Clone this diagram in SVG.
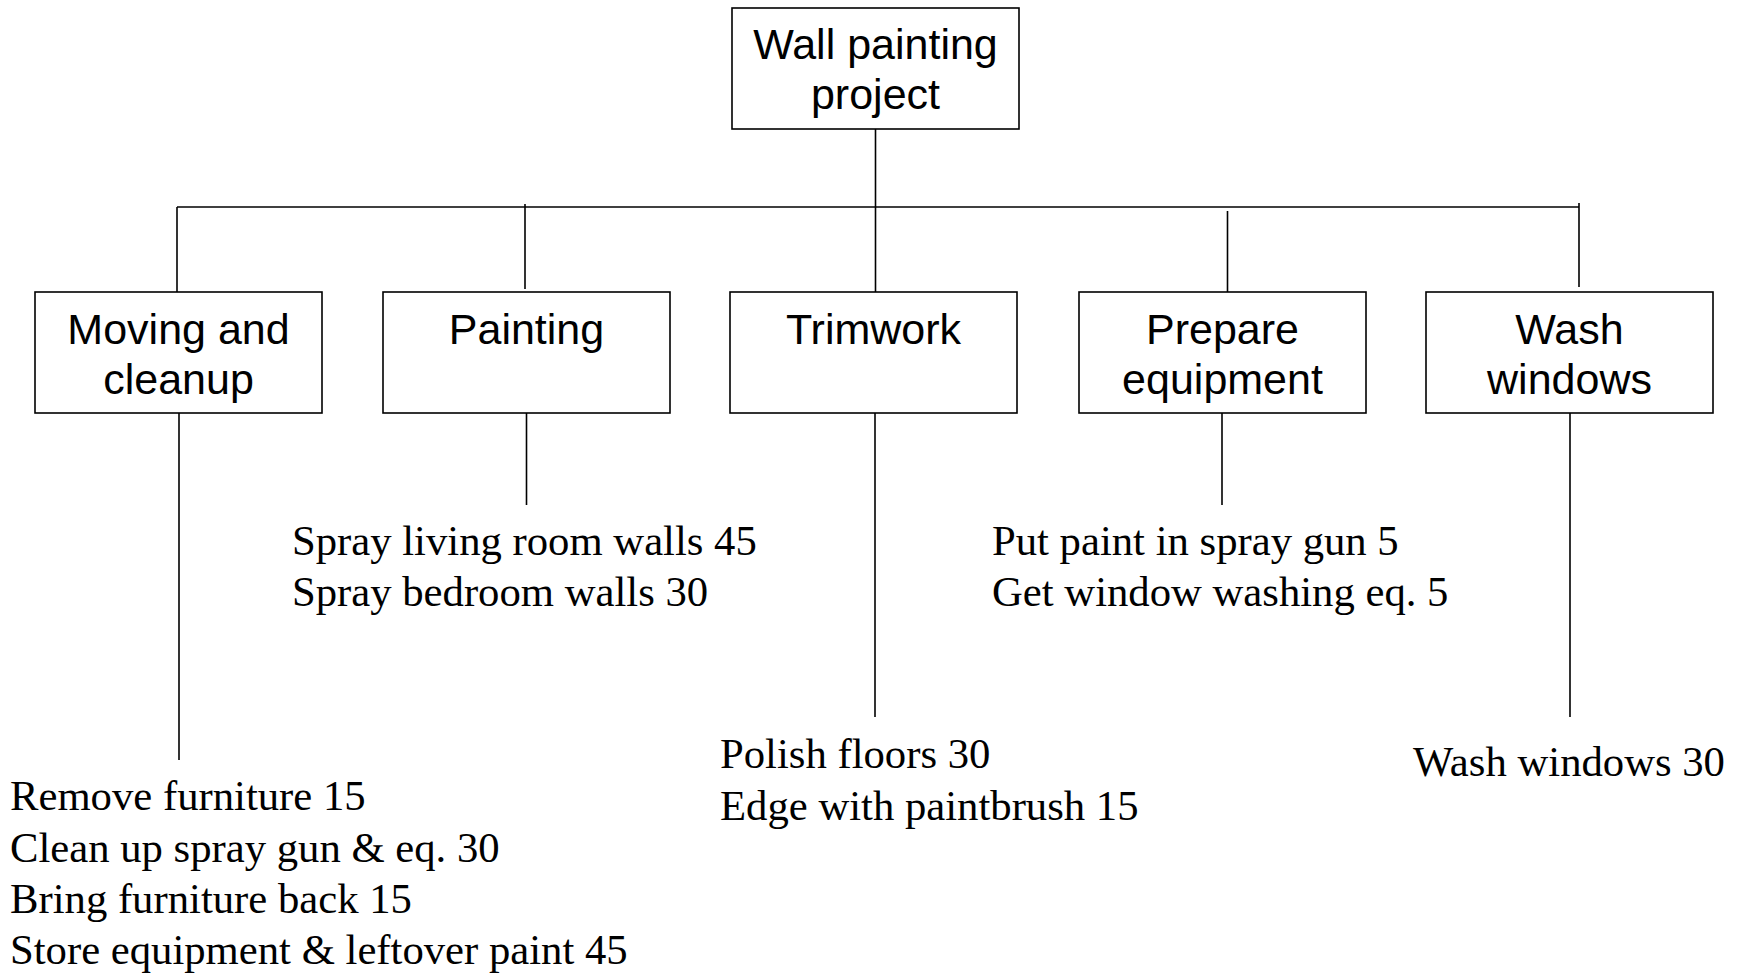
<svg xmlns="http://www.w3.org/2000/svg" width="1738" height="974" viewBox="0 0 1738 974">
<style>
.box{fill:#fff;stroke:#000;stroke-width:1.6}
.lbl{font-family:"Liberation Sans",Arial,sans-serif;font-size:43px;fill:#000;text-anchor:middle}
.task{font-family:"Liberation Serif","Times New Roman",serif;font-size:42.7px;fill:#000}
.con line{stroke:#000;stroke-width:1.6}
</style>
<rect width="1738" height="974" fill="#fff"/>
<g id="connectors" class="con">
<line x1="875.5" y1="129" x2="875.5" y2="292"/>
<line x1="177" y1="207" x2="1579" y2="207"/>
<line x1="177" y1="207" x2="177" y2="292"/>
<line x1="525" y1="204" x2="525" y2="289"/>
<line x1="1227.5" y1="211" x2="1227.5" y2="292"/>
<line x1="1579" y1="203" x2="1579" y2="287"/>
<line x1="179" y1="413" x2="179" y2="760"/>
<line x1="526.5" y1="413" x2="526.5" y2="505"/>
<line x1="875" y1="413" x2="875" y2="717"/>
<line x1="1222" y1="413" x2="1222" y2="505"/>
<line x1="1570" y1="413" x2="1570" y2="717"/>
</g>
<g id="root">
<rect class="box" x="732" y="8" width="287" height="121"/>
<text class="lbl" x="875.5" y="59">Wall painting</text>
<text class="lbl" x="875.5" y="109">project</text>
</g>
<g id="moving">
<rect class="box" x="35" y="292" width="287" height="121"/>
<text class="lbl" x="178.5" y="344">Moving and</text>
<text class="lbl" x="178.5" y="394">cleanup</text>
</g>
<g id="painting">
<rect class="box" x="383" y="292" width="287" height="121"/>
<text class="lbl" x="526.5" y="344">Painting</text>
</g>
<g id="trimwork">
<rect class="box" x="730" y="292" width="287" height="121"/>
<text class="lbl" x="873.5" y="344">Trimwork</text>
</g>
<g id="prepare">
<rect class="box" x="1079" y="292" width="287" height="121"/>
<text class="lbl" x="1222.5" y="344">Prepare</text>
<text class="lbl" x="1222.5" y="394">equipment</text>
</g>
<g id="wash">
<rect class="box" x="1426" y="292" width="287" height="121"/>
<text class="lbl" x="1569.5" y="344">Wash</text>
<text class="lbl" x="1569.5" y="394">windows</text>
</g>
<g id="moving-tasks" class="task">
<text x="10" y="810">Remove furniture 15</text>
<text x="10" y="862">Clean up spray gun &amp; eq. 30</text>
<text x="10" y="913">Bring furniture back 15</text>
<text x="10" y="964">Store equipment &amp; leftover paint 45</text>
</g>
<g id="painting-tasks" class="task">
<text x="292" y="555">Spray living room walls 45</text>
<text x="292" y="606">Spray bedroom walls 30</text>
</g>
<g id="trimwork-tasks" class="task">
<text x="720" y="768">Polish floors 30</text>
<text x="720" y="820">Edge with paintbrush 15</text>
</g>
<g id="prepare-tasks" class="task">
<text x="992" y="555">Put paint in spray gun 5</text>
<text x="992" y="606">Get window washing eq. 5</text>
</g>
<g id="wash-tasks" class="task">
<text x="1413" y="776">Wash windows 30</text>
</g>
</svg>
